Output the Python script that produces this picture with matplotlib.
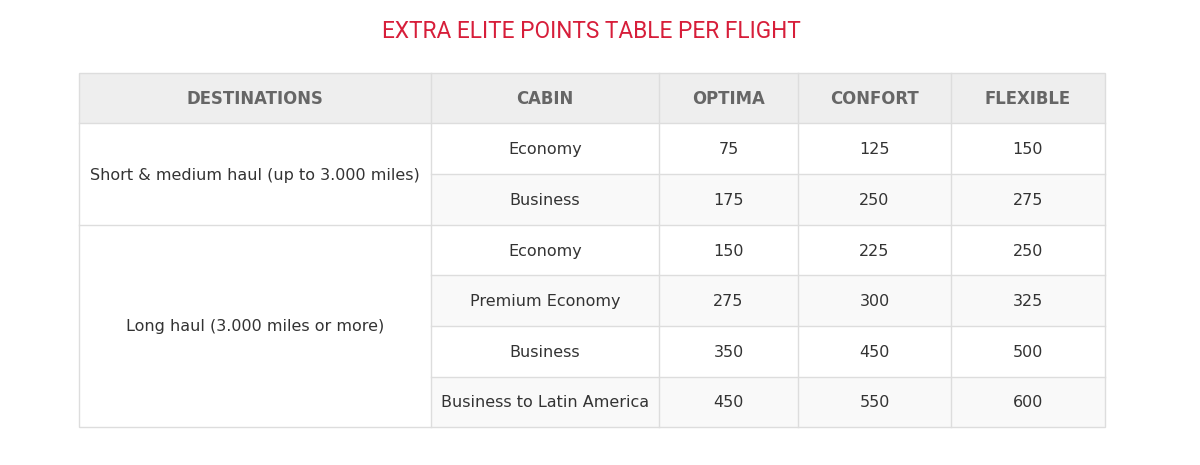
import matplotlib.pyplot as plt
from matplotlib.patches import Rectangle

title = "EXTRA ELITE POINTS TABLE PER FLIGHT"
headers = ["DESTINATIONS", "CABIN", "OPTIMA", "CONFORT", "FLEXIBLE"]
destinations = ["Short & medium haul (up to 3.000 miles)", "Long haul (3.000 miles or more)"]
dest_rows = [2, 4]
cabins = ["Economy", "Business", "Economy", "Premium Economy", "Business",
          "Business to Latin America"]
optima = [75, 175, 150, 275, 350, 450]
confort = [125, 250, 225, 300, 450, 550]
flexible = [150, 275, 250, 325, 500, 600]

# layout in pixels
col_x = [79, 431, 659, 798, 951, 1105]
top = 73
head_h = 50.5
row_h = 50.6
line_col = "#dddddd"
body_font = ["DejaVu Sans"]

fig = plt.figure(figsize=(12, 4.65), dpi=100)
ax = fig.add_axes([0, 0, 1, 1])
ax.set_xlim(0, 1200)
ax.set_ylim(465, 0)
ax.axis("off")

ax.text(591, 32, title, color="#d71e3a", fontsize=16.3, ha="center", va="center",
        family=["Roboto", "DejaVu Sans"])

# header
ax.add_patch(Rectangle((col_x[0], top), col_x[-1] - col_x[0], head_h,
                       facecolor="#eeeeee", edgecolor="none"))
for i, h in enumerate(headers):
    xc = (col_x[i] + col_x[i + 1]) / 2
    ax.text(xc, top + head_h / 2 + 1, h, ha="center", va="center", fontsize=11.9,
            fontweight="bold", color="#666666", family=body_font)

body_top = top + head_h
n = len(cabins)

# stripes on cabin..flexible columns
for r in range(n):
    y0 = body_top + r * row_h
    if r % 2 == 1:
        ax.add_patch(Rectangle((col_x[1], y0), col_x[-1] - col_x[1], row_h,
                               facecolor="#f9f9f9", edgecolor="none"))
    vals = [cabins[r], optima[r], confort[r], flexible[r]]
    for c, v in enumerate(vals):
        xc = (col_x[c + 1] + col_x[c + 2]) / 2
        ax.text(xc, y0 + row_h / 2 + 1, str(v), ha="center", va="center",
                fontsize=11.55, color="#333333", family=body_font)

# destination merged cells
start = 0
for d, span in zip(destinations, dest_rows):
    y0 = body_top + start * row_h
    yc = y0 + span * row_h / 2
    ax.text((col_x[0] + col_x[1]) / 2, yc + 1, d, ha="center", va="center",
            fontsize=11.55, color="#333333", family=body_font)
    start += span

bottom = body_top + n * row_h

# horizontal lines
ax.plot([col_x[0], col_x[-1]], [body_top, body_top], color=line_col, lw=1)
for r in range(1, n):
    y = body_top + r * row_h
    if r == dest_rows[0]:
        ax.plot([col_x[0], col_x[-1]], [y, y], color=line_col, lw=1)
    else:
        ax.plot([col_x[1], col_x[-1]], [y, y], color=line_col, lw=1)

# vertical lines
for x in col_x[1:-1]:
    ax.plot([x, x], [top, bottom], color=line_col, lw=1)

# outer border
ax.add_patch(Rectangle((col_x[0], top), col_x[-1] - col_x[0], bottom - top,
                       facecolor="none", edgecolor=line_col, lw=1))

plt.savefig("out.png", dpi=100)
